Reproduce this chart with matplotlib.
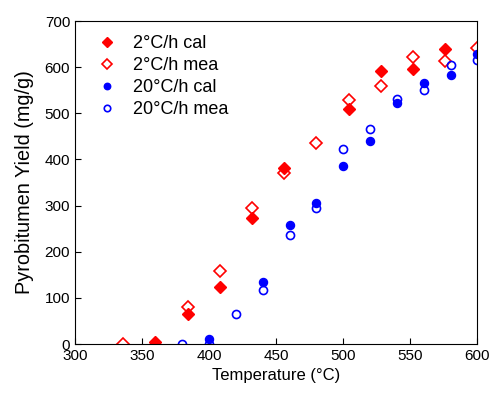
import matplotlib
matplotlib.use("Agg")
import matplotlib.pyplot as plt

plt.rcParams['font.family'] = ['Liberation Sans', 'DejaVu Sans']

t2_cal = [360, 384, 408, 432, 456, 504, 528, 552, 576]
y2_cal = [4, 64, 123, 274, 382, 510, 592, 597, 640]
t2_mea = [336, 384, 408, 432, 456, 480, 504, 528, 552, 576, 600]
y2_mea = [0, 81, 158, 294, 370, 435, 529, 560, 621, 613, 642]
t20_cal = [400, 440, 460, 480, 500, 520, 540, 560, 580, 600]
y20_cal = [10, 135, 257, 306, 386, 440, 522, 566, 582, 628]
t20_mea = [380, 400, 420, 440, 460, 480, 500, 520, 540, 560, 580, 600]
y20_mea = [1, 0, 64, 117, 236, 294, 423, 466, 532, 550, 605, 615]

fig = plt.figure(figsize=(4.95, 3.95), dpi=100)
ax = fig.add_axes([0.1515, 0.1291, 0.8131, 0.8177])

ax.plot(t2_cal, y2_cal, 'D', color='#FF0000', ms=6, mec='#FF0000', label='2°C/h cal')
ax.plot(t2_mea, y2_mea, 'D', color='#FF0000', ms=6, mfc='none', mec='#FF0000', mew=1.2, label='2°C/h mea')
ax.plot(t20_cal, y20_cal, 'o', color='#0000FF', ms=5.8, label='20°C/h cal')
ax.plot(t20_mea, y20_mea, 'o', color='#0000FF', ms=5.8, mfc='none', mec='#0000FF', mew=1.2, label='20°C/h mea')

ax.set_xlim(300, 600)
ax.set_ylim(0, 700)
ax.set_xticks([300, 350, 400, 450, 500, 550, 600])
ax.set_yticks([0, 100, 200, 300, 400, 500, 600, 700])
ax.tick_params(direction='in', labelsize=11, length=4, top=False, right=False)
ax.set_xlabel('Temperature (°C)', fontsize=12, labelpad=4)
ax.set_ylabel('Pyrobitumen Yield (mg/g)', fontsize=14.3, labelpad=8)

ax.legend(loc='upper left', frameon=False, fontsize=13, handletextpad=0.95,
          handlelength=1.0, markerscale=0.8, labelspacing=0.28, borderpad=0,
          borderaxespad=0, bbox_to_anchor=(0.057, 0.957))

fig.savefig('out.png', dpi=100)
